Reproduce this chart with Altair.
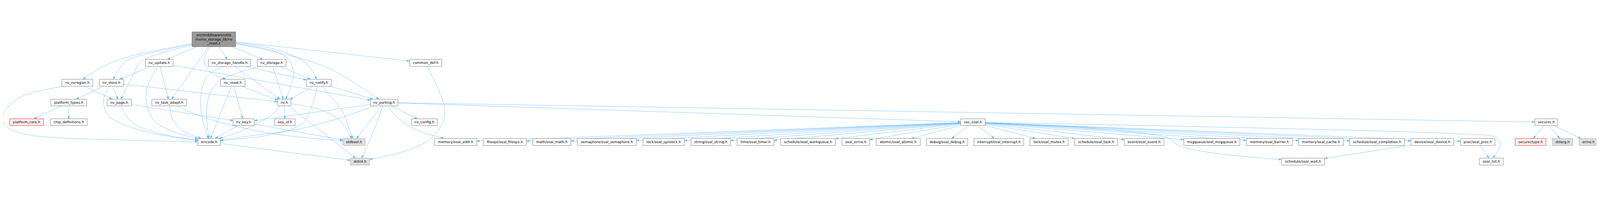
import math
import altair as alt
import pandas as pd

# ---------------- nodes (pixel boxes) ----------------
node_ids = [
    "root", "nv_nvregion.h", "nv_store.h", "platform_types.h", "nv_page.h",
    "platform_core.h", "chip_definitions.h", "nv_update.h", "nv_storage_handle.h",
    "nv_storage.h", "nv_reset.h", "nv_task_adapt.h", "nv_key.h", "errcode.h",
    "nv_notify.h", "nv.h", "key_id.h", "nv_porting.h", "stdbool.h", "stdint.h",
    "common_def.h", "nv_config.h", "memory/osal_addr.h", "fileops/osal_fileops.h",
    "math/osal_math.h", "semaphore/osal_semaphore.h", "lock/osal_spinlock.h",
    "string/osal_string.h", "time/osal_timer.h", "schedule/osal_workqueue.h",
    "osal_errno.h", "atomic/osal_atomic.h", "debug/osal_debug.h",
    "interrupt/osal_interrupt.h", "lock/osal_mutex.h", "schedule/osal_task.h",
    "event/osal_event.h", "msgqueue/osal_msgqueue.h", "memory/osal_barrier.h",
    "memory/osal_cache.h", "schedule/osal_completion.h", "device/osal_device.h",
    "proc/osal_proc.h", "soc_osal.h", "schedule/osal_wait.h", "osal_list.h",
    "securec.h", "securectype.h", "stdarg.h", "errno.h",
]
root_label = "src/middleware/utils\n/nv/nv_storage_lib/nv\n_reset.c"
node_labels = [root_label] + node_ids[1:]

node_x0 = [709, 226, 365, 185, 394, 32, 183, 536, 770, 951, 815, 560, 861, 731,
           1133, 1027, 1016, 1371, 1269, 1297, 1517, 1523, 1609, 1790, 1974, 2139,
           2383, 2561, 2732, 2894, 3121, 3248, 3435, 3611, 3819, 3985, 4169, 4390,
           4622, 4816, 5006, 5233, 5417, 3562, 4753, 5487, 5693, 5620, 5758, 5857]
node_x1 = [871, 341, 455, 318, 484, 158, 320, 639, 927, 1058, 906, 689, 940, 814,
           1226, 1076, 1092, 1473, 1351, 1368, 1636, 1620, 1766, 1950, 2115, 2358,
           2536, 2708, 2869, 3097, 3224, 3412, 3588, 3796, 3961, 4144, 4316, 4598,
           4793, 4982, 5209, 5392, 5545, 3653, 4912, 5576, 5778, 5734, 5833, 5926]
node_y0 = [5, 181, 181, 255, 255, 328, 328, 107, 107, 107, 181, 255, 328, 401,
           181, 255, 328, 255, 401, 474, 107, 328] + [401] * 21 + [328, 474, 474, 328, 401, 401, 401]
node_y1 = [60, 207, 207, 280, 280, 353, 353, 133, 133, 133, 207, 280, 353, 427,
           207, 280, 353, 280, 427, 500, 133, 353] + [427] * 21 + [353, 500, 500, 353, 427, 427, 427]
node_kind = (["root"] + ["normal"] * 4 + ["missing"] + ["normal"] * 12 + ["system", "system"]
             + ["normal"] * 27 + ["missing", "system", "system"])

# ---------------- include edges ----------------
soc_children = node_ids[22:43]
edge_src = (["root"] * 12
            + ["nv_update.h"] * 4 + ["nv_storage_handle.h"] * 3 + ["nv_storage.h"] * 3
            + ["nv_store.h"] * 4 + ["nv_nvregion.h"] * 2 + ["nv_page.h"] * 2
            + ["platform_types.h"] * 2 + ["nv_reset.h"] * 3 + ["nv_task_adapt.h"] * 2
            + ["nv_key.h"] * 2 + ["errcode.h"] + ["nv_notify.h"] * 4 + ["nv.h"] * 4
            + ["nv_porting.h"] * 8 + ["common_def.h"]
            + ["soc_osal.h"] * (len(soc_children) + 2)
            + ["device/osal_device.h", "proc/osal_proc.h"] + ["securec.h"] * 3)
edge_dst = (["nv_nvregion.h", "nv_store.h", "nv_page.h", "nv_update.h", "nv_task_adapt.h",
             "nv_reset.h", "nv_storage_handle.h", "nv_storage.h", "nv.h", "nv_notify.h",
             "nv_porting.h", "common_def.h"]
            + ["nv_store.h", "nv_task_adapt.h", "errcode.h", "nv_porting.h"]
            + ["errcode.h", "nv.h", "nv_notify.h"]
            + ["errcode.h", "nv.h", "nv_notify.h"]
            + ["platform_types.h", "nv_page.h", "errcode.h", "nv.h"]
            + ["nv_page.h", "errcode.h"]
            + ["errcode.h", "nv_key.h"]
            + ["platform_core.h", "chip_definitions.h"]
            + ["errcode.h", "nv_key.h", "nv.h"]
            + ["errcode.h", "stdbool.h"]
            + ["errcode.h", "stdbool.h"]
            + ["stdint.h"]
            + ["nv.h", "errcode.h", "stdbool.h", "nv_porting.h"]
            + ["key_id.h", "stdbool.h", "stdint.h", "errcode.h"]
            + ["nv_key.h", "errcode.h", "stdbool.h", "stdint.h", "nv_config.h",
               "memory/osal_addr.h", "soc_osal.h", "securec.h"]
            + ["stdint.h"]
            + soc_children + ["schedule/osal_wait.h", "osal_list.h"]
            + ["schedule/osal_wait.h", "osal_list.h"]
            + ["securectype.h", "stdarg.h", "errno.h"])

# bend points of the curved edges
edge_bends = {
    ("root", "nv_nvregion.h"): [(500, 90), (420, 115), (367, 140)],
    ("root", "nv_store.h"): [(500, 98), (460, 117), (433, 150)],
    ("root", "nv_page.h"): [(560, 95), (515, 120), (490, 165)],
    ("root", "nv_reset.h"): [(753, 110), (775, 152)],
    ("root", "nv.h"): [(1000, 72), (1060, 100), (1085, 150), (1077, 205)],
    ("root", "nv_notify.h"): [(1000, 65), (1117, 110), (1150, 143)],
    ("root", "nv_porting.h"): [(1000, 75), (1200, 133), (1300, 187)],
    ("nv_update.h", "errcode.h"): [(543, 213), (540, 267), (567, 333), (633, 373)],
    ("nv_storage_handle.h", "errcode.h"): [(770, 165), (745, 220), (742, 300)],
    ("nv_storage.h", "errcode.h"): [(870, 160), (813, 185), (777, 230), (763, 300)],
    ("nv_store.h", "errcode.h"): [(380, 260), (400, 317), (500, 365), (650, 398)],
    ("nv_nvregion.h", "errcode.h"): [(67, 250), (5, 320), (23, 360), (100, 387), (500, 408)],
    ("nv_page.h", "errcode.h"): [(470, 325), (500, 350), (600, 385)],
    ("nv_task_adapt.h", "errcode.h"): [(633, 320), (667, 367)],
    ("nv_task_adapt.h", "stdbool.h"): [(760, 325), (1000, 382)],
    ("nv_notify.h", "errcode.h"): [(1150, 290), (1120, 345), (1000, 387)],
    ("nv_notify.h", "stdbool.h"): [(1267, 300), (1293, 367)],
    ("nv.h", "stdbool.h"): [(1183, 293), (1260, 337)],
    ("nv.h", "errcode.h"): [(1000, 317), (900, 370)],
    ("nv_porting.h", "errcode.h"): [(1233, 333), (1100, 367), (900, 395)],
    ("nv_porting.h", "stdint.h"): [(1380, 380)],
    ("nv_porting.h", "memory/osal_addr.h"): [(1480, 330), (1550, 373)],
    ("common_def.h", "stdint.h"): [(1647, 290), (1635, 350), (1583, 410), (1500, 448)],
    ("soc_osal.h", "schedule/osal_wait.h"): [(4000, 360), (4333, 400), (4370, 427), (4500, 455)],
    ("soc_osal.h", "osal_list.h"): [(5431, 385), (5550, 398), (5564, 425)],
}

# ---------------- geometry helpers ----------------
box = {n: (x0, x1, y0, y1) for n, x0, x1, y0, y1 in
       zip(node_ids, node_x0, node_x1, node_y0, node_y1)}


def clip(name, px, py):
    x0, x1, y0, y1 = box[name]
    cx, cy = (x0 + x1) / 2, (y0 + y1) / 2
    dx, dy = px - cx, py - cy
    tx = (x1 - x0) / 2 / abs(dx) if dx else math.inf
    ty = (y1 - y0) / 2 / abs(dy) if dy else math.inf
    t = min(tx, ty, 1.0)
    return cx + dx * t, cy + dy * t


def center(name):
    x0, x1, y0, y1 = box[name]
    return (x0 + x1) / 2, (y0 + y1) / 2


line_rows, arrow_rows = [], []
for i, (s, d) in enumerate(zip(edge_src, edge_dst)):
    bends = edge_bends.get((s, d), [])
    first = bends[0] if bends else center(d)
    last = bends[-1] if bends else center(s)
    p0 = clip(s, *first)
    p1 = clip(d, *last)
    pts = [p0] + list(bends) + [p1]
    for k, (x, y) in enumerate(pts):
        line_rows.append({"eid": i, "k": k, "x": x, "y": y})
    ax, ay = pts[-2]
    vx, vy = p1[0] - ax, p1[1] - ay
    ln = math.hypot(vx, vy) or 1.0
    ux, uy = vx / ln, vy / ln
    ang = math.degrees(math.atan2(ux, -uy)) % 360
    arrow_rows.append({"x": p1[0] - 5 * ux, "y": p1[1] - 5 * uy, "ang": ang})

lines_df = pd.DataFrame(line_rows)
arrows_df = pd.DataFrame(arrow_rows)

nodes_df = pd.DataFrame({"id": node_ids, "x0": node_x0, "x1": node_x1,
                         "y0": node_y0, "y1": node_y1, "kind": node_kind})
text_rows = []
for lab, x0, x1, y0, y1 in zip(node_labels, node_x0, node_x1, node_y0, node_y1):
    parts = lab.split("\n")
    cx, cy = (x0 + x1) / 2, (y0 + y1) / 2
    for j, p in enumerate(parts):
        text_rows.append({"t": p, "x": cx, "y": cy + (j - (len(parts) - 1) / 2) * 14.6})
text_df = pd.DataFrame(text_rows)

# ---------------- chart ----------------
W, H = 5915, 489
xs = alt.Scale(domain=[8, 8 + W], nice=False, zero=False)
ys = alt.Scale(domain=[8, 8 + H], nice=False, zero=False, reverse=True)
EDGE = "#63b8ff"

kinds = ["normal", "root", "system", "missing"]
fills = ["#ffffff", "#999999", "#e0e0e0", "#fff0f0"]
strokes = ["#666666", "#666666", "#999999", "#ff0000"]

edges = alt.Chart(lines_df).mark_line(
    color=EDGE, strokeWidth=1.1, interpolate="catmull-rom"
).encode(
    x=alt.X("x:Q", scale=xs, axis=None),
    y=alt.Y("y:Q", scale=ys, axis=None),
    detail="eid:N",
    order="k:Q",
)

arrow_path = "M0,-1L0.7,1L-0.7,1Z"
arrows = alt.Chart(arrows_df).mark_point(
    shape=arrow_path, filled=True, color=EDGE, fill=EDGE, size=100,
    opacity=1, strokeWidth=0.8, stroke=EDGE
).encode(
    x=alt.X("x:Q", scale=xs, axis=None),
    y=alt.Y("y:Q", scale=ys, axis=None),
    angle=alt.Angle("ang:Q", scale=None),
)

rects = alt.Chart(nodes_df).mark_rect(strokeWidth=1.2).encode(
    x=alt.X("x0:Q", scale=xs, axis=None),
    x2="x1:Q",
    y=alt.Y("y0:Q", scale=ys, axis=None),
    y2="y1:Q",
    fill=alt.Fill("kind:N", scale=alt.Scale(domain=kinds, range=fills), legend=None),
    stroke=alt.Stroke("kind:N", scale=alt.Scale(domain=kinds, range=strokes), legend=None),
)

labels = alt.Chart(text_df).mark_text(
    font="DejaVu Sans", fontSize=12.9, color="#000000", align="center", baseline="middle"
).encode(
    x=alt.X("x:Q", scale=xs, axis=None),
    y=alt.Y("y:Q", scale=ys, axis=None),
    text="t:N",
)

chart = alt.layer(edges, arrows, rects, labels).properties(
    width=W, height=H, padding=0,
    autosize=alt.AutoSizeParams(type="none"),
    background="#ffffff",
).configure_view(strokeWidth=0)

chart.save("out.html", embed_options={"renderer": "svg", "actions": False})
